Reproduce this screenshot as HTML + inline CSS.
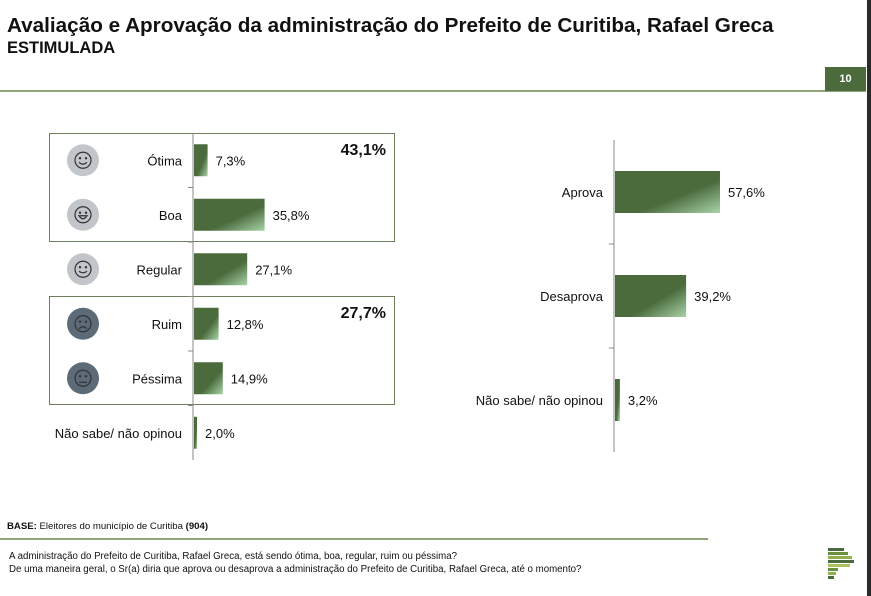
<!DOCTYPE html>
<html><head><meta charset="utf-8"><style>
body{margin:0;width:871px;height:596px;background:#fff;position:relative;overflow:hidden;font-family:"Liberation Sans",sans-serif;}
.abs{position:absolute;}
</style></head><body>
<div class="abs" style="left:7px;top:14px;font-size:20.7px;font-weight:bold;color:#111;white-space:nowrap;">Avaliação e Aprovação da administração do Prefeito de Curitiba, Rafael Greca</div>
<div class="abs" style="left:7px;top:39px;font-size:16.5px;font-weight:bold;color:#111;">ESTIMULADA</div>
<div class="abs" style="left:0;top:90px;width:866px;height:2px;background:#8fa27a;"></div>
<div class="abs" style="left:825px;top:67px;width:41px;height:24px;background:#4b6b3d;color:#fff;font-size:11px;font-weight:bold;text-align:center;line-height:24px;">10</div>
<div class="abs" style="left:867px;top:0;width:4px;height:596px;background:#2a2a2a;"></div>
<svg class="abs" style="left:0;top:0" width="871" height="596">
<defs><linearGradient id="g" x1="0" y1="0" x2="1" y2="1">
<stop offset="0" stop-color="#4b6b3d"/><stop offset="0.6" stop-color="#4b6b3d"/><stop offset="1" stop-color="#a8d4a8"/></linearGradient></defs>
<g id="left"></g><g id="right"></g>
</svg>
<div class="abs" style="left:7px;top:521px;font-size:9.6px;color:#111;white-space:nowrap;"><b>BASE:</b> Eleitores do município de Curitiba <b>(904)</b></div>
<div class="abs" style="left:0;top:538px;width:708px;height:2px;background:#8fa27a;"></div>
<div class="abs" style="left:9px;top:550px;font-size:9.7px;line-height:13px;color:#111;white-space:nowrap;">A administração do Prefeito de Curitiba, Rafael Greca, está sendo ótima, boa, regular, ruim ou péssima?<br>De uma maneira geral, o Sr(a) diria que aprova ou desaprova a administração do Prefeito de Curitiba, Rafael Greca, até o momento?</div>
<div class="abs" style="left:828px;top:548px;width:26px;height:34px;">
<div style="height:3px;width:16px;background:#4b6b3d;margin-bottom:1px"></div>
<div style="height:3px;width:20px;background:#6a8f3d;margin-bottom:1px"></div>
<div style="height:3px;width:24px;background:#8fb04d;margin-bottom:1px"></div>
<div style="height:3px;width:26px;background:#4b6b3d;margin-bottom:1px"></div>
<div style="height:3px;width:22px;background:#a9c25a;margin-bottom:1px"></div>
<div style="height:3px;width:10px;background:#6a8f3d;margin-bottom:1px"></div>
<div style="height:3px;width:8px;background:#8fb04d;margin-bottom:1px"></div>
<div style="height:3px;width:6px;background:#4b6b3d;"></div>
</div>
<script>
const leftCats=["Ótima","Boa","Regular","Ruim","Péssima","Não sabe/ não opinou"];
const leftVals=[7.3,35.8,27.1,12.8,14.9,2.0];
const leftLabels=["7,3%","35,8%","27,1%","12,8%","14,9%","2,0%"];
const rightCats=["Aprova","Desaprova","Não sabe/ não opinou"];
const rightVals=[57.6,39.2,3.2];
const rightLabels=["57,6%","39,2%","3,2%"];
const groupTotals=["43,1%","27,7%"];
const NS="http://www.w3.org/2000/svg";
function mk(p,tag,attrs){const e=document.createElementNS(NS,tag);for(const k in attrs)e.setAttribute(k,attrs[k]);p.appendChild(e);return e;}
function chart(g,cats,vals,labels,x0,yTop,yBot,scale,barH,prefix){
  const band=(yBot-yTop)/cats.length;
  const xs=v=>x0+v*scale, yc=i=>yTop+band*(i+0.5);
  let ax=mk(g,'line',{x1:x0,x2:x0,y1:yTop,y2:yBot,stroke:'#888','stroke-width':1});
  
  for(let i=1;i<cats.length;i++){const t=mk(g,'line',{x1:x0-5,x2:x0,y1:yTop+band*i,y2:yTop+band*i,stroke:'#888'});
    }
  cats.forEach((c,i)=>{
    const r=mk(g,'rect',{x:x0+1,y:yc(i)-barH/2,width:Math.max(1,xs(vals[i])-x0-1),height:barH,fill:'url(#g)'});
    
    const l=mk(g,'text',{x:x0-11,y:yc(i)+5,'text-anchor':'end','font-size':13,fill:'#111','font-family':'Liberation Sans'});
    l.textContent=c;
    const v=mk(g,'text',{x:xs(vals[i])+8,y:yc(i)+5,'font-size':13,fill:'#111','font-family':'Liberation Sans'});
    v.textContent=labels[i];
  });
  return yc;
}
const L=document.getElementById('left');
[[133,241],[296,404]].forEach((b,i)=>{
  const r=mk(L,'rect',{x:49.5,y:b[0]+0.5,width:345,height:b[1]-b[0],fill:'none',stroke:'#6d7f5a','stroke-width':1});
  
  const t=mk(L,'text',{x:386,y:b[0]+22,'text-anchor':'end','font-size':16,'font-weight':'bold',fill:'#111','font-family':'Liberation Sans'});
  t.textContent=groupTotals[i];
});
const yc=chart(L,leftCats,leftVals,leftLabels,193,133,460,2.0,32,'left');
const faceCols=["#c2c6ca","#c2c6ca","#c2c6ca","#5d6a78","#5d6a78"];
const mouths=["M-4 2 Q0 6 4 2","M-4 1 Q0 7 4 1 Z","M-4 2 Q0 5 4 2","M-4 5 Q0 1 4 5","M-4 4 L4 4"];
faceCols.forEach((c,i)=>{
  const g=mk(L,'g',{transform:`translate(83,${yc(i)})`});
  
  mk(g,'circle',{r:16,fill:c});
  mk(g,'circle',{r:8,fill:'none',stroke:'#333','stroke-width':1.2});
  mk(g,'circle',{cx:-3,cy:-2,r:1.2,fill:'#333'});mk(g,'circle',{cx:3,cy:-2,r:1.2,fill:'#333'});
  mk(g,'path',{d:mouths[i],fill:'none',stroke:'#333','stroke-width':1.2});
});
chart(document.getElementById('right'),rightCats,rightVals,rightLabels,614,140,452,1.84,42,'right');
</script>
</body></html>
